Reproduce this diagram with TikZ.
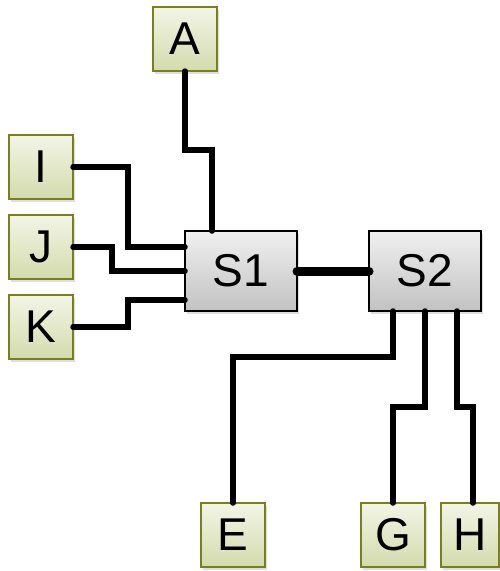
\documentclass[tikz,border=0pt]{standalone}
\usepackage{fontspec}
\setmainfont{Liberation Sans}
\usetikzlibrary{shadows}
\definecolor{leafborder}{HTML}{7A7E1E}
\definecolor{leaftop}{HTML}{F3F5E6}
\definecolor{leafbot}{HTML}{D3DBAE}
\definecolor{swtop}{HTML}{F0F0F0}
\definecolor{swbot}{HTML}{C2C2C2}
\begin{document}
\begin{tikzpicture}[x=1pt,y=-1pt,
  leaf/.style={draw=leafborder, line width=2pt, top color=leaftop, bottom color=leafbot,
    minimum width=64pt, minimum height=64pt, inner sep=0pt, outer sep=0pt,
    font=\fontsize{46}{50}\selectfont,
    drop shadow={opacity=0.25, shadow xshift=2pt, shadow yshift=-3pt}},
  switchbox/.style={draw=black, line width=2pt, top color=swtop, bottom color=swbot,
    minimum width=112pt, minimum height=80pt, inner sep=0pt, outer sep=0pt,
    font=\fontsize{46}{50}\selectfont,
    drop shadow={opacity=0.25, shadow xshift=2pt, shadow yshift=-3pt}},
  conn/.style={draw=black, line width=5.5pt, line cap=round, line join=miter},
  trunk/.style={draw=black, line width=9pt, line cap=round}
]
\useasboundingbox (0,0) rectangle (500,571);
\fill[white] (0,0) rectangle (500,571);

\node[leaf] (A) at (185,39) {A};
\node[leaf] (I) at (41,167) {I};
\node[leaf] (J) at (41,247) {J};
\node[leaf] (K) at (41,327) {K};
\node[switchbox] (S1) at (241,271) {S1};
\node[switchbox] (S2) at (425,271) {S2};
\node[leaf] (E) at (233,535) {E};
\node[leaf] (G) at (393,535) {G};
\node[leaf, minimum width=58pt] (H) at (470,535) {H};

\draw[conn] (A.south) -- ++(0,79) -| ([xshift=-29pt]S1.north);
\draw[conn] (I.east) -- ++(55,0) |- ([yshift=24pt]S1.west);
\draw[conn] (J.east) -- ++(39,0) |- (S1.west);
\draw[conn] (K.east) -- ++(55,0) |- ([yshift=-29pt]S1.west);
\draw[trunk] (S1.east) -- (S2.west);
\draw[conn] ([xshift=-32pt]S2.south) -- ++(0,46) -| (E.north);
\draw[conn] (S2.south) -- ++(0,96) -| (G.north);
\draw[conn] ([xshift=32pt]S2.south) -- ++(0,96) -| ([xshift=3pt]H.north);
\end{tikzpicture}
\end{document}
